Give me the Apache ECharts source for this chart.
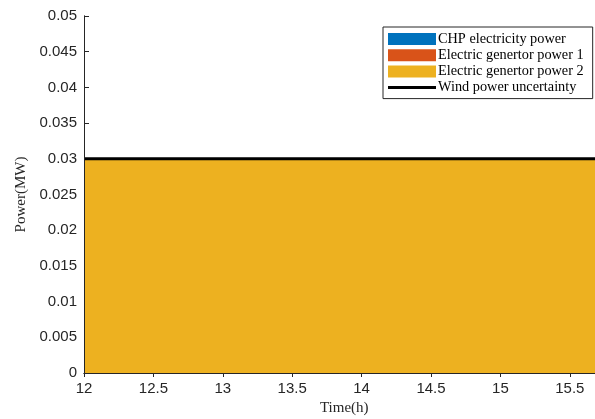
<!DOCTYPE html>
<html>
<head>
<meta charset="utf-8">
<script src="https://cdn.jsdelivr.net/npm/echarts@6/dist/echarts.min.js"></script>
<style>
  html, body { margin: 0; padding: 0; background: #fff; }
  #chart { width: 595px; height: 419px; }
</style>
</head>
<body>
<div id="chart"></div>
<script>
// Quarter-hour time steps (h)
const times = [12, 12.25, 12.5, 12.75, 13, 13.25, 13.5, 13.75, 14, 14.25, 14.5, 14.75, 15, 15.25, 15.5, 15.75];
// Power outputs (MW)
const chpPower   = [0, 0, 0, 0, 0, 0, 0, 0, 0, 0, 0, 0, 0, 0, 0, 0];
const gen1Power  = [0, 0, 0, 0, 0, 0, 0, 0, 0, 0, 0, 0, 0, 0, 0, 0];
const gen2Power  = [0.03, 0.03, 0.03, 0.03, 0.03, 0.03, 0.03, 0.03, 0.03, 0.03, 0.03, 0.03, 0.03, 0.03, 0.03, 0.03];
const windUncert = [0.03, 0.03, 0.03, 0.03, 0.03, 0.03, 0.03, 0.03, 0.03, 0.03, 0.03, 0.03, 0.03, 0.03, 0.03, 0.03];

const seriesNames = ['CHP electricity power', 'Electric genertor power 1', 'Electric genertor power 2', 'Wind power uncertainty'];
const colors = ['#0072BD', '#D95319', '#EDB120', '#000000'];

const Y_MIN = 0, Y_MAX = 0.05;
const tickFont = { fontFamily: 'Liberation Sans', fontSize: 15, color: '#262626' };
const titleFont = { fontFamily: 'Liberation Serif', fontSize: 15, color: '#262626' };

// thin horizontal bar inside a 48x12 box, used as the legend icon of the line
const lineIcon = 'path://M0,0 M48,12 M0,4.5 L48,4.5 L48,7.5 L0,7.5 Z';

function areaSeries(idx, vals) {
  return {
    name: seriesNames[idx],
    type: 'line',
    stack: 'supply',
    data: vals,
    symbol: 'none',
    showSymbol: false,
    itemStyle: { color: colors[idx] },
    lineStyle: { width: 0, color: colors[idx] },
    areaStyle: { color: colors[idx], opacity: 1 },
    z: 2
  };
}

const chart = echarts.init(document.getElementById('chart'), null, { renderer: 'canvas' });
chart.setOption({
  animation: false,
  backgroundColor: '#ffffff',
  grid: { left: 84, right: -9.5, top: 16, bottom: 46, show: false, containLabel: false, outerBoundsMode: 'none' },
  legend: {
    orient: 'vertical',
    left: 383,
    top: 27,
    padding: [5, 9, 4, 5],
    itemGap: 2.2,
    itemWidth: 48,
    itemHeight: 12,
    borderColor: '#262626',
    borderWidth: 1,
    backgroundColor: '#ffffff',
    textStyle: { fontFamily: 'Liberation Serif', fontSize: 14.3, color: '#000', padding: [0, 0, 0, -3] },
    data: [
      { name: seriesNames[0], icon: 'rect' },
      { name: seriesNames[1], icon: 'rect' },
      { name: seriesNames[2], icon: 'rect' },
      { name: seriesNames[3], icon: lineIcon }
    ],
    z: 20
  },
  xAxis: [
    {
      type: 'category', data: times, boundaryGap: false, position: 'bottom',
      name: 'Time(h)', nameLocation: 'middle', nameGap: 26, nameTextStyle: titleFont,
      axisLine: { show: true, lineStyle: { color: '#262626', width: 1 } },
      axisTick: { show: false },
      axisLabel: Object.assign({ margin: 8, interval: 1 }, tickFont),
      splitLine: { show: false },
      z: 10
    },
    {
      type: 'category', data: times, boundaryGap: false, position: 'top',
      axisLine: { show: true, lineStyle: { color: '#262626', width: 1 } },
      axisTick: { show: true, inside: true, length: 4, interval: 1, lineStyle: { color: '#262626' } },
      axisLabel: { show: false, interval: 1 },
      splitLine: { show: false },
      z: 0
    }
  ],
  yAxis: [
    {
      type: 'value', min: Y_MIN, max: Y_MAX, interval: 0.005, position: 'left',
      name: 'Power(MW)', nameLocation: 'middle', nameGap: 49, nameTextStyle: titleFont,
      axisLine: { show: true, lineStyle: { color: '#262626', width: 1 } },
      axisTick: { show: true, inside: true, length: 5, lineStyle: { color: '#262626' } },
      axisLabel: Object.assign({ margin: 7 }, tickFont),
      splitLine: { show: false },
      z: 0
    },
    {
      // frame line drawn above the filled areas
      type: 'value', min: Y_MIN, max: Y_MAX, interval: 0.005, position: 'left', offset: 0,
      axisLine: { show: true, lineStyle: { color: '#262626', width: 1 } },
      axisTick: { show: false },
      axisLabel: { show: false },
      splitLine: { show: false },
      z: 10
    }
  ],
  series: [
    areaSeries(0, chpPower),
    areaSeries(1, gen1Power),
    areaSeries(2, gen2Power),
    {
      name: seriesNames[3],
      type: 'line',
      data: windUncert,
      symbol: 'none',
      showSymbol: false,
      itemStyle: { color: '#000000' },
      lineStyle: { width: 3, color: '#000000' },
      z: 5
    }
  ]
});
</script>
</body>
</html>
